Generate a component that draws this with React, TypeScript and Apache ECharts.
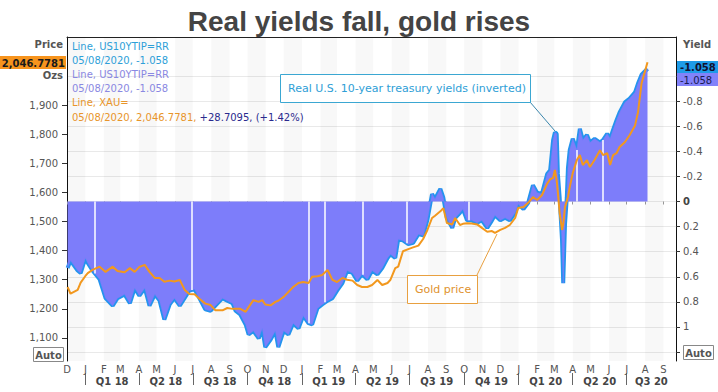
import React, { useEffect, useRef } from 'react';
import * as echarts from 'echarts';

// ---------- data ----------
const dates = [
  '2017-12-02', '2017-12-07', '2017-12-19', '2017-12-24', '2018-01-01', '2018-01-05', '2018-01-13', '2018-01-25',
  '2018-02-04', '2018-02-16', '2018-02-24', '2018-03-08', '2018-03-17', '2018-03-25', '2018-04-02', '2018-04-11',
  '2018-04-19', '2018-04-28', '2018-05-06', '2018-05-14', '2018-05-23', '2018-05-31', '2018-06-09', '2018-06-17',
  '2018-06-25', '2018-07-04', '2018-07-12', '2018-07-22', '2018-07-31', '2018-08-08', '2018-08-20', '2018-08-28',
  '2018-09-06', '2018-09-11', '2018-09-19', '2018-09-28', '2018-10-03', '2018-10-11', '2018-10-20', '2018-10-26',
  '2018-10-31', '2018-11-09', '2018-11-17', '2018-11-22', '2018-12-01', '2018-12-09', '2018-12-17', '2018-12-26',
  '2019-01-03', '2019-01-12', '2019-01-18', '2019-01-27', '2019-02-04', '2019-02-13', '2019-02-21', '2019-03-01',
  '2019-03-10', '2019-03-18', '2019-03-27', '2019-04-04', '2019-04-12', '2019-04-21', '2019-04-29', '2019-05-08',
  '2019-05-16', '2019-05-25', '2019-05-30', '2019-06-07', '2019-06-12', '2019-06-20', '2019-06-29', '2019-07-07',
  '2019-07-16', '2019-07-24', '2019-07-31', '2019-08-08', '2019-08-13', '2019-08-22', '2019-08-27', '2019-09-02',
  '2019-09-11', '2019-09-16', '2019-09-24', '2019-09-29', '2019-10-06', '2019-10-14', '2019-10-23', '2019-10-31',
  '2019-11-09', '2019-11-17', '2019-11-22', '2019-12-01', '2019-12-09', '2019-12-17', '2019-12-26', '2019-12-31',
  '2020-01-09', '2020-01-17', '2020-01-25', '2020-02-01', '2020-02-09', '2020-02-18', '2020-02-23', '2020-02-28',
  '2020-03-02', '2020-03-05', '2020-03-07', '2020-03-10', '2020-03-14', '2020-03-16', '2020-03-19', '2020-03-22',
  '2020-03-24', '2020-03-27', '2020-04-01', '2020-04-08', '2020-04-13', '2020-04-18', '2020-04-25', '2020-04-30',
  '2020-05-08', '2020-05-17', '2020-05-22', '2020-05-29', '2020-06-03', '2020-06-08', '2020-06-14', '2020-06-19',
  '2020-06-28', '2020-07-06', '2020-07-15', '2020-07-20', '2020-07-26', '2020-08-05',
];

// US 10-year TIPS real yield (%), plotted on an inverted axis
const realYield = [
  0.53, 0.47, 0.55, 0.57, 0.45, 0.49, 0.55, 0.62,
  0.77, 0.83, 0.77, 0.74, 0.81, 0.69, 0.75, 0.69,
  0.83, 0.74, 0.79, 0.94, 0.82, 0.77, 0.83, 0.77,
  0.71, 0.70, 0.77, 0.86, 0.87, 0.83, 0.77, 0.79,
  0.81, 0.87, 0.90, 0.98, 1.06, 1.03, 1.09, 1.01,
  1.16, 1.10, 1.03, 1.16, 1.03, 1.06, 0.97, 1.01,
  0.91, 0.97, 0.98, 0.85, 0.82, 0.79, 0.77, 0.71,
  0.65, 0.55, 0.57, 0.63, 0.58, 0.62, 0.55, 0.58,
  0.53, 0.45, 0.42, 0.45, 0.30, 0.31, 0.34, 0.33,
  0.26, 0.27, 0.15, -0.06, -0.02, -0.10, -0.03, 0.13,
  0.21, 0.13, 0.09, 0.06, 0.15, 0.15, 0.17, 0.15,
  0.21, 0.15, 0.11, 0.15, 0.13, 0.15, 0.09, 0.02,
  0.06, 0.01, -0.13, -0.07, -0.06, -0.22, -0.25, -0.49,
  -0.55, -0.54, -0.22, -0.03, 0.31, 0.65, 0.18, -0.03,
  -0.27, -0.41, -0.50, -0.41, -0.58, -0.49, -0.53, -0.47,
  -0.50, -0.47, -0.49, -0.54, -0.50, -0.57, -0.65, -0.71,
  -0.79, -0.82, -0.87, -0.94, -1.01, -1.058,
];

// Gold spot price, USD per ounce
const goldPrice = [
  1275, 1252, 1265, 1290, 1313, 1323, 1334, 1345,
  1327, 1345, 1330, 1326, 1340, 1327, 1344, 1351,
  1327, 1306, 1306, 1293, 1297, 1294, 1299, 1266,
  1251, 1250, 1235, 1218, 1213, 1195, 1195, 1203,
  1200, 1200, 1200, 1190, 1206, 1230, 1224, 1230,
  1215, 1212, 1224, 1228, 1241, 1258, 1275, 1289,
  1292, 1289, 1310, 1312, 1316, 1334, 1300, 1292,
  1306, 1300, 1297, 1282, 1275, 1275, 1282, 1299,
  1282, 1289, 1300, 1340, 1345, 1398, 1405, 1411,
  1417, 1440, 1470, 1512, 1520, 1535, 1546, 1495,
  1490, 1512, 1488, 1492, 1494, 1493, 1490, 1478,
  1465, 1467, 1461, 1471, 1478, 1488, 1512, 1546,
  1550, 1564, 1584, 1574, 1590, 1630, 1645, 1650,
  1677, 1640, 1600, 1529, 1471, 1490, 1550, 1570,
  1584, 1618, 1666, 1711, 1728, 1694, 1711, 1687,
  1712, 1745, 1728, 1735, 1694, 1728, 1735, 1756,
  1773, 1797, 1830, 1875, 1975, 2046.7781,
];

const xRange = ['2017-12-01', '2020-09-22'];
const monthStarts = [
  '2017-12-01', '2018-01-01', '2018-02-01', '2018-03-01', '2018-04-01', '2018-05-01', '2018-06-01',
  '2018-07-01', '2018-08-01', '2018-09-01', '2018-10-01', '2018-11-01', '2018-12-01', '2019-01-01',
  '2019-02-01', '2019-03-01', '2019-04-01', '2019-05-01', '2019-06-01', '2019-07-01', '2019-08-01',
  '2019-09-01', '2019-10-01', '2019-11-01', '2019-12-01', '2020-01-01', '2020-02-01', '2020-03-01',
  '2020-04-01', '2020-05-01', '2020-06-01', '2020-07-01', '2020-08-01', '2020-09-01',
];
const monthLetters = ['J', 'F', 'M', 'A', 'M', 'J', 'J', 'A', 'S', 'O', 'N', 'D'];
const quarterStarts = [
  '2018-01-01', '2018-04-01', '2018-07-01', '2018-10-01', '2019-01-01', '2019-04-01',
  '2019-07-01', '2019-10-01', '2020-01-01', '2020-04-01', '2020-07-01',
];
const quarterLabels = ['Q1 18', 'Q2 18', 'Q3 18', 'Q4 18', 'Q1 19', 'Q2 19', 'Q3 19', 'Q4 19', 'Q1 20', 'Q2 20', 'Q3 20'];

const priceRange = [1021, 2133.5];
const priceTicks = [1100, 1200, 1300, 1400, 1500, 1600, 1700, 1800, 1900];
const yieldRange = [-1.311, 1.271];
const yieldTicks = [-1, -0.8, -0.6, -0.4, -0.2, 0, 0.2, 0.4, 0.6, 0.8, 1, 1.2];
const yieldTickLabels = [-0.8, -0.6, -0.4, -0.2, 0, 0.2, 0.4, 0.6, 0.8, 1];

// thin white breaks visible inside the yield area
const gapDates = [
  '2018-01-17', '2018-06-29', '2019-01-12', '2019-02-09', '2019-04-13',
  '2019-06-27', '2019-10-08', '2020-04-08', '2020-05-22',
];
const goldChangeText = '+28.7095, (+1.42%)';

const FONT = 'DejaVu Sans';

function toTime(s: string): number {
  const [y, m, d] = s.split('-').map(Number);
  return new Date(y, m - 1, d).getTime();
}

export default function App() {
  const ref = useRef<HTMLDivElement>(null);

  useEffect(() => {
    if (!ref.current) return;
    const chart = echarts.init(ref.current, null, { renderer: 'svg' });

    const xMin = toTime(xRange[0]);
    const xMax = toTime(xRange[1]);
    const times = dates.map(toTime);
    const yieldData = times.map((t, i) => [t, realYield[i]]);
    const goldData = times.map((t, i) => [t, goldPrice[i]]);

    const monthTimes = monthStarts.map(toTime);
    const visibleMonths = monthTimes.filter((m) => m >= xMin && m <= xMax);
    const stripes: any[] = [];
    monthTimes.forEach((m, i) => {
      if (new Date(m).getMonth() % 2 === 1) {
        const end = i + 1 < monthTimes.length ? monthTimes[i + 1] : xMax;
        stripes.push([{ xAxis: Math.max(m, xMin) }, { xAxis: Math.min(end, xMax) }]);
      }
    });

    const qTimes = quarterStarts.map(toTime);
    const qMids = qTimes.map((s) => {
      const d = new Date(s);
      const e = new Date(d.getFullYear(), d.getMonth() + 3, 1).getTime();
      return (s + Math.min(e, xMax)) / 2;
    });

    const interpYield = (t: number) => {
      for (let i = 0; i < times.length - 1; i++) {
        if (t >= times[i] && t <= times[i + 1]) {
          const f = (t - times[i]) / (times[i + 1] - times[i]);
          return realYield[i] + f * (realYield[i + 1] - realYield[i]);
        }
      }
      return 0;
    };
    const gapLines = gapDates.map((d) => {
      const t = toTime(d);
      return [{ coord: [t, 0] }, { coord: [t, interpYield(t)] }];
    });

    const lastDate = dates[dates.length - 1].split('-');
    const lastDateText = `${lastDate[2]}/${lastDate[1]}/${lastDate[0]}`;
    const lastYield = realYield[realYield.length - 1].toFixed(3);
    const lastGold = goldPrice[goldPrice.length - 1].toLocaleString('en-US', {
      minimumFractionDigits: 4,
      maximumFractionDigits: 4,
    });

    const tickText = { fontFamily: FONT, fontSize: 10, color: '#555' };

    const option: any = {
      animation: false,
      backgroundColor: '#ffffff',
      title: {
        text: 'Real yields fall, gold rises',
        left: 'center',
        top: 2,
        textStyle: { fontFamily: 'Liberation Sans', fontSize: 28, fontWeight: 'bold', color: '#444' },
      },
      grid: { left: 67, right: 42, top: 37, bottom: 31 },
      xAxis: [
        {
          type: 'value',
          min: xMin,
          max: xMax,
          position: 'bottom',
          axisLine: { show: false },
          axisTick: {
            show: true,
            customValues: visibleMonths,
            length: 3,
            lineStyle: { color: '#999' },
          },
          axisLabel: {
            customValues: visibleMonths,
            formatter: (v: number) => monthLetters[new Date(v).getMonth()],
            ...tickText,
            margin: 3,
            hideOverlap: false,
          },
          splitLine: { show: false },
        },
        {
          type: 'value',
          min: xMin,
          max: xMax,
          position: 'bottom',
          offset: 12,
          axisLine: { show: false },
          axisTick: {
            show: true,
            customValues: qTimes,
            length: 12,
            lineStyle: { color: '#666' },
          },
          axisLabel: {
            customValues: qMids,
            formatter: (v: number) => {
              const i = qMids.findIndex((m) => Math.abs(m - v) < 86400000);
              return i >= 0 ? quarterLabels[i] : '';
            },
            fontFamily: FONT,
            fontSize: 10,
            fontWeight: 'bold',
            color: '#444',
            margin: 3,
          },
          splitLine: { show: false },
        },
        {
          type: 'value',
          position: 'top',
          min: 0,
          max: 1,
          axisLine: { show: true, lineStyle: { color: '#222', width: 1 } },
          axisTick: { show: false },
          axisLabel: { show: false },
          splitLine: { show: false },
        },
      ],
      yAxis: [
        {
          type: 'value',
          position: 'left',
          min: priceRange[0],
          max: priceRange[1],
          axisLine: { show: true, lineStyle: { color: '#111', width: 1 } },
          axisTick: { show: true, customValues: priceTicks, length: 5, lineStyle: { color: '#333' } },
          axisLabel: {
            customValues: priceTicks,
            formatter: (v: number) => v.toLocaleString('en-US'),
            ...tickText,
            margin: 9,
          },
          splitLine: { show: false },
        },
        {
          type: 'value',
          position: 'right',
          inverse: true,
          min: yieldRange[0],
          max: yieldRange[1],
          axisLine: { show: true, lineStyle: { color: '#111', width: 1 } },
          axisTick: { show: true, customValues: yieldTicks, length: 4, lineStyle: { color: '#333' } },
          axisLabel: {
            customValues: yieldTickLabels,
            formatter: (v: number) => (v === 0 ? '{b|0}' : String(v)),
            ...tickText,
            margin: 7,
            rich: { b: { fontWeight: 'bold', fontFamily: FONT, fontSize: 10, color: '#444' } },
          },
          splitLine: { show: true, lineStyle: { color: '#e9e9e9', width: 1 } },
        },
      ],
      series: [
        {
          name: 'US10YTIP line',
          type: 'line',
          xAxisIndex: 0,
          yAxisIndex: 1,
          data: yieldData,
          symbol: 'none',
          z: 3,
          lineStyle: { color: '#2394EE', width: 4 },
          markArea: {
            silent: true,
            itemStyle: { color: 'rgba(0,0,0,0.028)' },
            data: stripes,
          },
        },
        {
          name: 'US10YTIP area',
          type: 'line',
          xAxisIndex: 0,
          yAxisIndex: 1,
          data: yieldData,
          symbol: 'none',
          z: 4,
          lineStyle: { color: '#7D7DFA', width: 0.5 },
          areaStyle: { color: '#7D7DFA', opacity: 1 },
          markLine: {
            silent: true,
            symbol: ['none', 'none'],
            label: { show: false },
            lineStyle: { color: '#ffffff', width: 1.5, type: 'solid' },
            data: gapLines,
          },
        },
        {
          name: 'XAU',
          type: 'line',
          xAxisIndex: 0,
          yAxisIndex: 0,
          data: goldData,
          symbol: 'none',
          z: 10,
          lineStyle: { color: '#F2981E', width: 2 },
        },
      ],
      graphic: [
        {
          type: 'text', x: 72, y: 39, z: 100, silent: true,
          style: {
            text:
              `{bl|Line, US10YTIP=RR}\n{bl|${lastDateText}, ${lastYield}}\n` +
              `{pu|Line, US10YTIP=RR}\n{pu|${lastDateText}, ${lastYield}}\n` +
              `{or|Line, XAU=}\n{or|${lastDateText}, ${lastGold}, }{nv|${goldChangeText}}`,
            fontFamily: FONT,
            fontSize: 10,
            lineHeight: 14.2,
            rich: {
              bl: { fill: '#2E9FD8', fontFamily: FONT, fontSize: 10, lineHeight: 14.2 },
              pu: { fill: '#8A88E2', fontFamily: FONT, fontSize: 10, lineHeight: 14.2 },
              or: { fill: '#E8952A', fontFamily: FONT, fontSize: 10, lineHeight: 14.2 },
              nv: { fill: '#2A2A8E', fontFamily: FONT, fontSize: 10, lineHeight: 14.2 },
            },
          },
        },
        {
          type: 'text', x: 63, y: 44, z: 100, silent: true,
          style: { text: 'Price', align: 'right', verticalAlign: 'middle', fontFamily: FONT, fontSize: 10, fontWeight: 'bold', fill: '#555' },
        },
        {
          type: 'rect', z: 101, silent: true,
          shape: { x: 0, y: 56, width: 66, height: 13 },
          style: { fill: '#F7941D' },
        },
        {
          type: 'text', x: 65, y: 63, z: 102, silent: true,
          style: { text: lastGold, align: 'right', verticalAlign: 'middle', fontFamily: FONT, fontSize: 10, fontWeight: 'bold', fill: '#1a1a1a' },
        },
        {
          type: 'text', x: 63, y: 75, z: 100, silent: true,
          style: { text: 'Ozs', align: 'right', verticalAlign: 'middle', fontFamily: FONT, fontSize: 10, fontWeight: 'bold', fill: '#555' },
        },
        {
          type: 'text', x: 683, y: 44, z: 100, silent: true,
          style: { text: 'Yield', align: 'left', verticalAlign: 'middle', fontFamily: FONT, fontSize: 10, fontWeight: 'bold', fill: '#555' },
        },
        {
          type: 'rect', z: 101, silent: true,
          shape: { x: 677, y: 61, width: 41, height: 12 },
          style: { fill: '#1E9BE8' },
        },
        {
          type: 'text', x: 680, y: 67, z: 102, silent: true,
          style: { text: lastYield, align: 'left', verticalAlign: 'middle', fontFamily: FONT, fontSize: 10, fontWeight: 'bold', fill: '#101030' },
        },
        {
          type: 'rect', z: 101, silent: true,
          shape: { x: 677, y: 73, width: 41, height: 13 },
          style: { fill: '#8282FA' },
        },
        {
          type: 'text', x: 680, y: 80, z: 102, silent: true,
          style: { text: lastYield, align: 'left', verticalAlign: 'middle', fontFamily: FONT, fontSize: 10, fill: '#1a1a50' },
        },
        {
          type: 'rect', z: 100, silent: true,
          shape: { x: 33.5, y: 347.5, width: 30, height: 14 },
          style: { fill: '#fff', stroke: '#888', lineWidth: 1 },
        },
        {
          type: 'text', x: 48.5, y: 355, z: 101, silent: true,
          style: { text: 'Auto', align: 'center', verticalAlign: 'middle', fontFamily: FONT, fontSize: 10, fontWeight: 'bold', fill: '#555' },
        },
        {
          type: 'rect', z: 100, silent: true,
          shape: { x: 683.5, y: 345.5, width: 30, height: 14 },
          style: { fill: '#fff', stroke: '#888', lineWidth: 1 },
        },
        {
          type: 'text', x: 698.5, y: 353, z: 101, silent: true,
          style: { text: 'Auto', align: 'center', verticalAlign: 'middle', fontFamily: FONT, fontSize: 10, fontWeight: 'bold', fill: '#555' },
        },
        {
          type: 'line', z: 100, silent: true,
          shape: { x1: 530, y1: 102, x2: 555, y2: 131 },
          style: { stroke: '#3B86AC', lineWidth: 1 },
        },
        {
          type: 'rect', z: 100, silent: true,
          shape: { x: 280.5, y: 74.5, width: 250, height: 28 },
          style: { fill: '#fff', stroke: '#3BA7D2', lineWidth: 1 },
        },
        {
          type: 'text', x: 288, y: 88.5, z: 101, silent: true,
          style: { text: 'Real U.S. 10-year treasury yields (inverted)', align: 'left', verticalAlign: 'middle', fontFamily: FONT, fontSize: 11, fill: '#2E9ED6' },
        },
        {
          type: 'line', z: 100, silent: true,
          shape: { x1: 477, y1: 275, x2: 497, y2: 234 },
          style: { stroke: '#E8A040', lineWidth: 1 },
        },
        {
          type: 'rect', z: 100, silent: true,
          shape: { x: 407.5, y: 275.5, width: 70, height: 28 },
          style: { fill: '#fff', stroke: '#E8A040', lineWidth: 1 },
        },
        {
          type: 'text', x: 415, y: 289.5, z: 101, silent: true,
          style: { text: 'Gold price', align: 'left', verticalAlign: 'middle', fontFamily: FONT, fontSize: 11, fill: '#E0922E' },
        },
      ],
    };

    chart.setOption(option);
    return () => chart.dispose();
  }, []);

  return (
    <div
      ref={ref}
      style={{ position: 'fixed', left: 0, top: 0, width: 718, height: 392, background: '#fff' }}
    />
  );
}
